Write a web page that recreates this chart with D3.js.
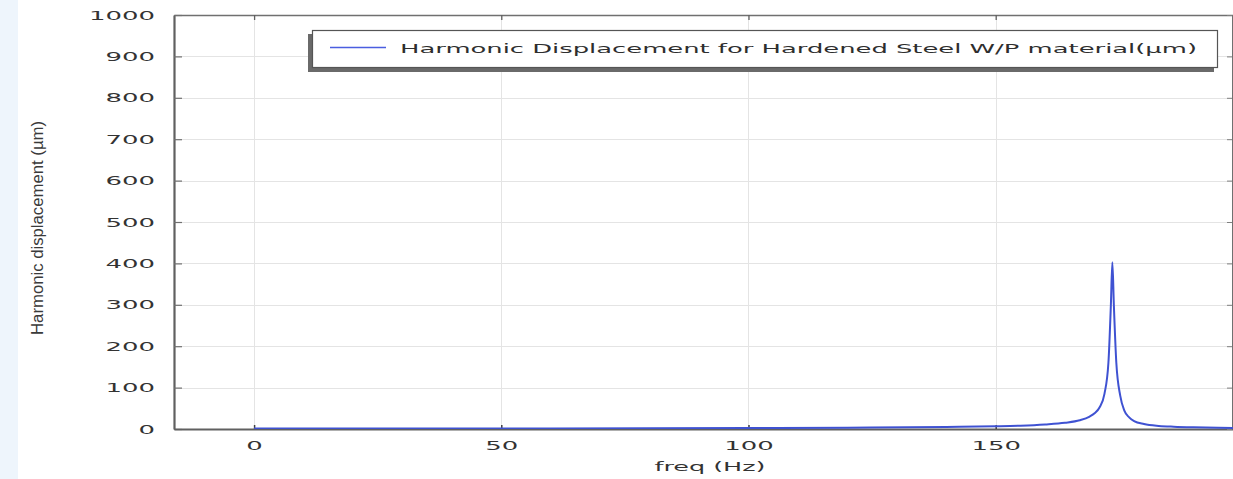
<!DOCTYPE html>
<html>
<head>
<meta charset="utf-8">
<script src="https://cdn.jsdelivr.net/npm/d3@7"></script>
<style>
  html, body { margin: 0; padding: 0; background: #ffffff; }
  svg { display: block; }
</style>
</head>
<body>
<svg id="chart" width="1233" height="479"></svg>
<script>
// Frequency sweep (Hz) and harmonic displacement (µm) around the resonance
const freqHz = [0, 20, 40, 60, 80, 100, 120, 140, 150, 155, 160, 164, 167, 169, 170, 171,
  172, 172.8, 173.3, 173.6, 173.9, 174.4, 175.2, 176, 177, 178, 180, 183, 186, 190, 195, 200];
const displacement = [1.0, 1.1, 1.2, 1.4, 1.7, 2.2, 3.0, 5.0, 6.5, 8, 11, 15, 21, 30, 38, 52,
  85, 160, 300, 403, 300, 160, 80, 45, 28, 19, 12, 7.5, 5.5, 4, 3, 2.5];

const xTicks = [0, 50, 100, 150];
const yTicks = [0, 100, 200, 300, 400, 500, 600, 700, 800, 900, 1000];
const seriesName = "Harmonic Displacement for Hardened Steel W/P material(\u00b5m)";
const xTitle = "freq (Hz)";
const yTitle = "Harmonic displacement (\u00b5m)";

const svg = d3.select("#chart");
const W = 1233, H = 479;
const plotL = 174, plotR = 1233, plotT = 15, plotB = 429;

const x = d3.scaleLinear().domain([-16.2, 198.0]).range([plotL, plotR]);
const y = d3.scaleLinear().domain([0, 1000]).range([plotB, plotT]);
const fmt = d3.format("d");

// pale strip along the left edge of the page
svg.append("rect").attr("x", 0).attr("y", 0).attr("width", 18).attr("height", H)
  .attr("fill", "#eef5fc");

// grid
const grid = svg.append("g").attr("stroke", "#e4e4e4").attr("stroke-width", 1);
grid.selectAll("line.v").data(xTicks).join("line").attr("class", "v")
  .attr("x1", d => Math.round(x(d)) + 0.5).attr("x2", d => Math.round(x(d)) + 0.5)
  .attr("y1", plotT).attr("y2", plotB);
grid.selectAll("line.h").data(yTicks.filter(d => d > 0 && d < 1000)).join("line").attr("class", "h")
  .attr("x1", plotL).attr("x2", plotR)
  .attr("y1", d => Math.round(y(d)) + 0.5).attr("y2", d => Math.round(y(d)) + 0.5);

const tickFont = "'DejaVu Sans', Verdana, sans-serif";

// y axis (ticks point into the plot)
const yAxis = svg.append("g").attr("transform", `translate(${plotL},0)`)
  .call(d3.axisLeft(y).tickValues(yTicks).tickFormat(fmt)
    .tickSizeInner(-8).tickSizeOuter(0).tickPadding(19));
yAxis.select(".domain").attr("stroke", "#606060").attr("stroke-width", 2.2);
yAxis.selectAll(".tick line").attr("stroke", "#707070").attr("stroke-width", 1.2);
yAxis.selectAll(".tick text")
  .attr("font-family", tickFont).attr("font-size", 13).attr("fill", "#333333")
  .attr("textLength", d => fmt(d).length * 16.5).attr("lengthAdjust", "spacingAndGlyphs");

// x axis (ticks point up into the plot)
const xAxis = svg.append("g").attr("transform", `translate(0,${plotB})`)
  .call(d3.axisBottom(x).tickValues(xTicks).tickFormat(fmt)
    .tickSizeInner(-4).tickSizeOuter(0).tickPadding(12));
xAxis.select(".domain").attr("stroke", "#606060").attr("stroke-width", 2.2);
xAxis.selectAll(".tick line").attr("stroke", "#404040").attr("stroke-width", 1.5);
xAxis.selectAll(".tick text")
  .attr("font-family", tickFont).attr("font-size", 13).attr("fill", "#333333")
  .attr("textLength", d => fmt(d).length * 16.5).attr("lengthAdjust", "spacingAndGlyphs");

// top frame with downward ticks
const topAxis = svg.append("g").attr("transform", `translate(0,${plotT})`)
  .call(d3.axisTop(x).tickValues(xTicks).tickSizeInner(-5).tickSizeOuter(0).tickFormat(""));
topAxis.select(".domain").attr("stroke", "#707070").attr("stroke-width", 1.6);
topAxis.selectAll(".tick line").attr("stroke", "#606060").attr("stroke-width", 1.3);

// right frame ticks
const rightAxis = svg.append("g").attr("transform", `translate(${plotR - 1},0)`)
  .call(d3.axisRight(y).tickValues(yTicks).tickSizeInner(-5).tickSizeOuter(0).tickFormat(""));
rightAxis.select(".domain").attr("stroke", "#707070").attr("stroke-width", 1);
rightAxis.selectAll(".tick line").attr("stroke", "#808080").attr("stroke-width", 1);

// data line
svg.append("defs").append("clipPath").attr("id", "plotClip")
  .append("rect").attr("x", plotL).attr("y", plotT).attr("width", plotR - plotL).attr("height", plotB - plotT);
const pts = freqHz.map((f, i) => [f, displacement[i]]);
svg.append("path").datum(pts)
  .attr("clip-path", "url(#plotClip)")
  .attr("fill", "none").attr("stroke", "#3f52d2").attr("stroke-width", 2)
  .attr("stroke-linejoin", "round")
  .attr("d", d3.line().x(d => x(d[0])).y(d => y(d[1])).curve(d3.curveMonotoneX));

// legend box with shadow
const lg = svg.append("g");
lg.append("rect").attr("x", 308).attr("y", 34).attr("width", 906).attr("height", 38)
  .attr("fill", "#6a6a6a");
lg.append("rect").attr("x", 312.5).attr("y", 30.5).attr("width", 905).attr("height", 37)
  .attr("fill", "#ffffff").attr("stroke", "#555555").attr("stroke-width", 1.2);
lg.append("line").attr("x1", 330).attr("x2", 386).attr("y1", 47.5).attr("y2", 47.5)
  .attr("stroke", "#4a5ee0").attr("stroke-width", 1.6);
lg.append("text").attr("x", 400).attr("y", 53)
  .attr("font-family", tickFont).attr("font-size", 13).attr("fill", "#2e2e2e")
  .attr("textLength", 797).attr("lengthAdjust", "spacingAndGlyphs")
  .text(seriesName);

// axis titles
svg.append("text").attr("x", 710).attr("y", 471).attr("text-anchor", "middle")
  .attr("font-family", tickFont).attr("font-size", 13).attr("fill", "#333333")
  .attr("textLength", 111).attr("lengthAdjust", "spacingAndGlyphs")
  .text(xTitle);
svg.append("text").attr("transform", "translate(43,228) rotate(-90)").attr("text-anchor", "middle")
  .attr("font-family", "'Liberation Sans Narrow', 'Liberation Sans', Arial, sans-serif")
  .attr("font-size", 16).attr("fill", "#3a3a3a")
  .attr("textLength", 214).attr("lengthAdjust", "spacingAndGlyphs")
  .text(yTitle);
</script>
</body>
</html>
